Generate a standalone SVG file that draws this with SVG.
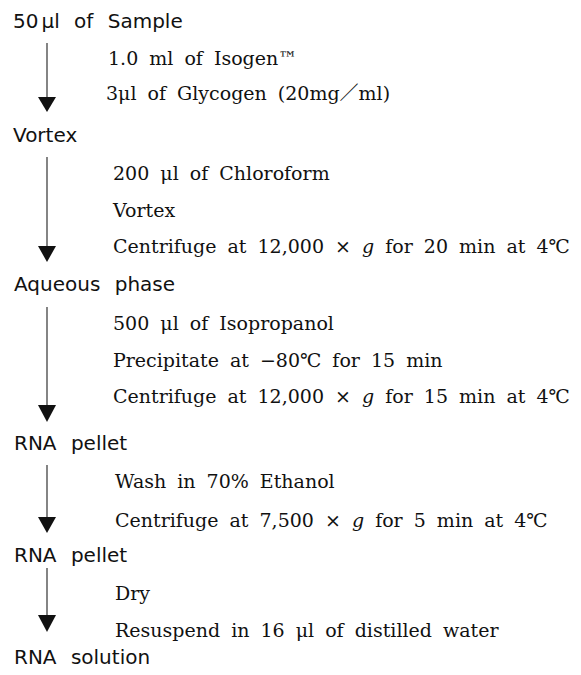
<svg xmlns="http://www.w3.org/2000/svg" width="581" height="675" viewBox="0 0 581 675">
<style>
.lbl{font-family:"DejaVu Sans","Noto Sans",sans-serif;font-size:20px;fill:#111;word-spacing:8px}
.step{font-family:"DejaVu Serif","Liberation Serif","Noto Sans CJK JP",serif;font-size:19px;fill:#111;word-spacing:5px}
.it{font-style:italic}
.shaft{stroke:#333;stroke-width:1.2;fill:none}
.head{fill:#111}
</style>
<rect width="581" height="675" fill="#fff"/>
<g id="connectors">
<line class="shaft" x1="47" y1="43" x2="47" y2="100"/><polygon class="head" points="38,97 56,97 47,112"/>
<line class="shaft" x1="47" y1="157" x2="47" y2="249"/><polygon class="head" points="38,246 56,246 47,262"/>
<line class="shaft" x1="47" y1="307" x2="47" y2="408"/><polygon class="head" points="38,405 56,405 47,422"/>
<line class="shaft" x1="47" y1="465" x2="47" y2="520"/><polygon class="head" points="38,517 56,517 47,533"/>
<line class="shaft" x1="47" y1="568" x2="47" y2="618"/><polygon class="head" points="38,615 56,615 47,632"/>
</g>
<g id="sample"><text class="lbl" x="13" y="28">50<tspan dx="3">μl</tspan> of Sample</text></g>
<g id="steps1">
<text class="step" x="108" y="65">1.0 ml of Isogen™</text>
<text class="step" x="106" y="100">3μl of Glycogen (20mg／ml)</text>
</g>
<g id="vortex"><text class="lbl" x="13" y="142">Vortex</text></g>
<g id="steps2">
<text class="step" x="113" y="180">200 μl of Chloroform</text>
<text class="step" x="113" y="217">Vortex</text>
<text class="step" x="113" y="253">Centrifuge at 12,000 × <tspan class="it">g</tspan> for 20 min at 4℃</text>
</g>
<g id="aqueous"><text class="lbl" x="14" y="291">Aqueous phase</text></g>
<g id="steps3">
<text class="step" x="113" y="330">500 μl of Isopropanol</text>
<text class="step" x="113" y="367">Precipitate at −80℃ for 15 min</text>
<text class="step" x="113" y="403">Centrifuge at 12,000 × <tspan class="it">g</tspan> for 15 min at 4℃</text>
</g>
<g id="pellet1"><text class="lbl" x="14" y="450">RNA pellet</text></g>
<g id="steps4">
<text class="step" x="115" y="488">Wash in 70% Ethanol</text>
<text class="step" x="115" y="527">Centrifuge at 7,500 × <tspan class="it">g</tspan> for 5 min at 4℃</text>
</g>
<g id="pellet2"><text class="lbl" x="14" y="562">RNA pellet</text></g>
<g id="steps5">
<text class="step" x="115" y="600">Dry</text>
<text class="step" x="115" y="637">Resuspend in 16 μl of distilled water</text>
</g>
<g id="solution"><text class="lbl" x="14" y="664">RNA solution</text></g>
</svg>
